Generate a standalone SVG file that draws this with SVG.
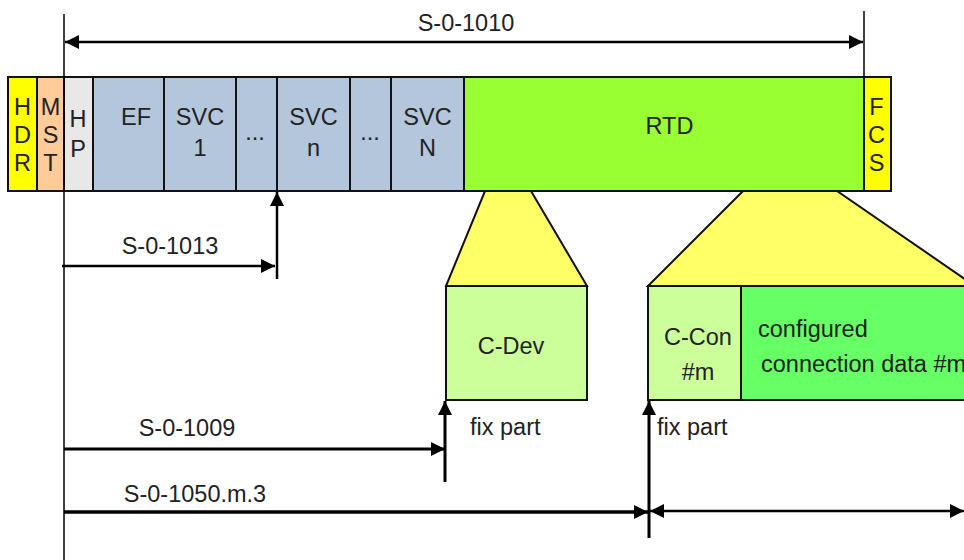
<svg xmlns="http://www.w3.org/2000/svg" width="964" height="560" viewBox="0 0 964 560">
<defs>
<style>
.t{font-family:"Liberation Sans",Arial,sans-serif;font-size:23.5px;fill:#222;}
.m{text-anchor:middle;}
.cell{stroke:#111;stroke-width:2;}
.ln{stroke:#000;fill:none;}
</style>
<marker id="ah" viewBox="0 0 14 14" refX="14" refY="7" markerWidth="14" markerHeight="14" markerUnits="userSpaceOnUse" orient="auto-start-reverse">
<path d="M0,0 L14,7 L0,14 Z" fill="#000"/>
</marker>
</defs>
<rect width="964" height="560" fill="#fff"/>

<g id="trap1"><polygon points="485,191 531,191 587,286 446,286" fill="#ffff66" stroke="#111" stroke-width="2"/></g>
<g id="trap2"><polygon points="743,191 837,191 975,286 648,286" fill="#ffff66" stroke="#111" stroke-width="2"/></g>

<g id="hdr"><rect class="cell" x="8" y="77" width="29" height="114" fill="#ffff00"/>
<text class="t m" x="22.5" y="115">H</text><text class="t m" x="22.5" y="143">D</text><text class="t m" x="22.5" y="171">R</text></g>
<g id="mst"><rect class="cell" x="37" y="77" width="27" height="114" fill="#ffcc99"/>
<text class="t m" x="50.5" y="115">M</text><text class="t m" x="50.5" y="143">S</text><text class="t m" x="50.5" y="171">T</text></g>
<g id="hp"><rect class="cell" x="64" y="77" width="29" height="114" fill="#e8e8e8"/>
<text class="t m" x="78" y="127">H</text><text class="t m" x="78" y="157">P</text></g>
<g id="ef"><rect class="cell" x="93" y="77" width="71" height="114" fill="#b3c6db"/>
<text class="t m" x="136" y="125">EF</text></g>
<g id="svc1"><rect class="cell" x="164" y="77" width="72" height="114" fill="#b3c6db"/>
<text class="t m" x="200" y="125">SVC</text><text class="t m" x="200" y="156">1</text></g>
<g id="dots1"><rect class="cell" x="236" y="77" width="41" height="114" fill="#b3c6db"/>
<text class="t m" x="255" y="140">...</text></g>
<g id="svcn"><rect class="cell" x="277" y="77" width="73" height="114" fill="#b3c6db"/>
<text class="t m" x="313.5" y="125">SVC</text><text class="t m" x="313.5" y="156">n</text></g>
<g id="dots2"><rect class="cell" x="350" y="77" width="41" height="114" fill="#b3c6db"/>
<text class="t m" x="370" y="140">...</text></g>
<g id="svcN"><rect class="cell" x="391" y="77" width="73" height="114" fill="#b3c6db"/>
<text class="t m" x="427.5" y="125">SVC</text><text class="t m" x="427.5" y="156">N</text></g>
<g id="rtd"><rect class="cell" x="464" y="77" width="400" height="114" fill="#99ff33"/>
<text class="t m" x="669.5" y="134">RTD</text></g>
<g id="fcs"><rect class="cell" x="864" y="77" width="27" height="114" fill="#ffff00"/>
<text class="t m" x="876.5" y="115">F</text><text class="t m" x="876.5" y="143">C</text><text class="t m" x="876.5" y="171">S</text></g>

<g id="cdev"><rect class="cell" x="446" y="286" width="141" height="114" fill="#ccff99"/>
<text class="t m" x="511" y="354">C-Dev</text></g>
<g id="ccon"><rect class="cell" x="648" y="286" width="93" height="114" fill="#ccff99"/>
<text class="t m" x="698" y="345">C-Con</text><text class="t m" x="698" y="380">#m</text></g>
<g id="cdata"><rect class="cell" x="741" y="286" width="240" height="114" fill="#66ff66"/>
<text class="t" x="758" y="337">configured</text><text class="t" x="761" y="372">connection data #m</text></g>

<g id="connectors">
<line class="ln" x1="64" y1="14" x2="64" y2="560" stroke-width="1.5"/>
<line class="ln" x1="864" y1="11" x2="864" y2="77" stroke-width="1.5"/>
<line class="ln" x1="65" y1="42" x2="863" y2="42" stroke-width="2.5" marker-start="url(#ah)" marker-end="url(#ah)"/>
<line class="ln" x1="62" y1="266" x2="275" y2="266" stroke-width="2.5" marker-end="url(#ah)"/>
<line class="ln" x1="277" y1="279" x2="277" y2="192" stroke-width="2.5" marker-end="url(#ah)"/>
<line class="ln" x1="64" y1="449" x2="445" y2="449" stroke-width="3" marker-end="url(#ah)"/>
<line class="ln" x1="445" y1="482" x2="445" y2="401" stroke-width="3" marker-end="url(#ah)"/>
<line class="ln" x1="64" y1="512" x2="648" y2="512" stroke-width="3.5" marker-end="url(#ah)"/>
<line class="ln" x1="649" y1="538" x2="649" y2="401" stroke-width="3" marker-end="url(#ah)"/>
<line class="ln" x1="650" y1="511" x2="964" y2="511" stroke-width="2.5" marker-start="url(#ah)" marker-end="url(#ah)"/>
</g>

<g id="labels">
<text class="t m" x="466" y="31">S-0-1010</text>
<text class="t m" x="170" y="254">S-0-1013</text>
<text class="t m" x="187" y="436">S-0-1009</text>
<text class="t m" x="195" y="502">S-0-1050.m.3</text>
<text class="t" x="470" y="435">fix part</text>
<text class="t" x="657" y="435">fix part</text>
</g>
</svg>
